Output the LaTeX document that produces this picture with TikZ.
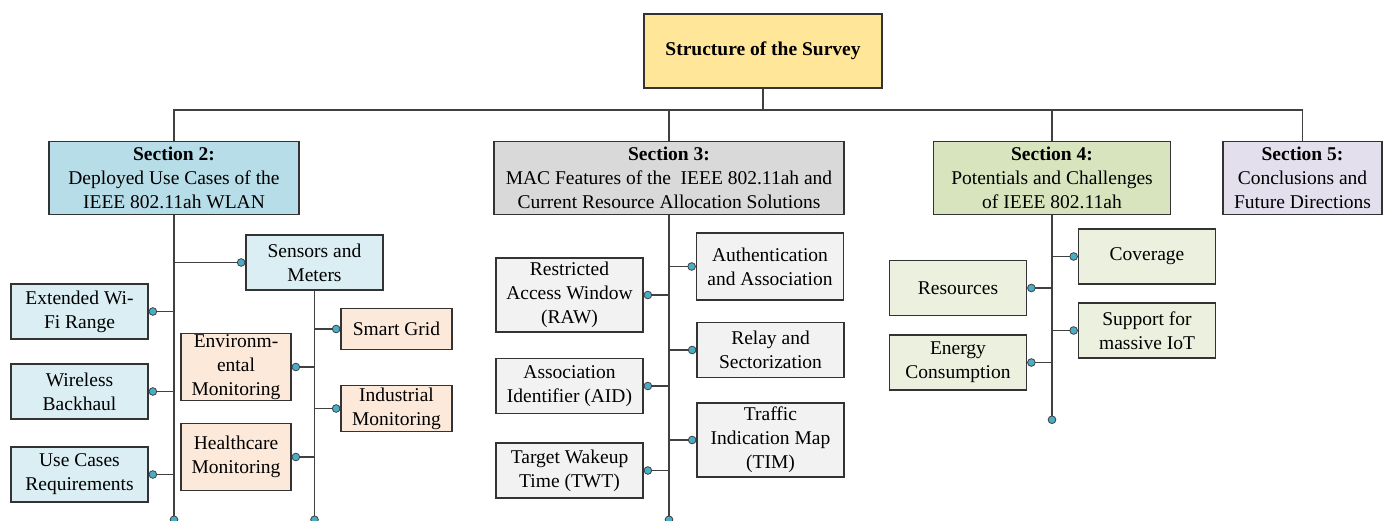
\documentclass[tikz,border=0pt]{standalone}
\usepackage{fontspec}
\setmainfont{Liberation Serif}
\usetikzlibrary{arrows.meta}
\definecolor{linecol}{HTML}{333333}
\definecolor{wirecol}{HTML}{404040}
\definecolor{dotfill}{HTML}{4BACC6}
\definecolor{topfill}{HTML}{FFE699}
\definecolor{blueA}{HTML}{B7DDE8}
\definecolor{blueB}{HTML}{DAEEF3}
\definecolor{peach}{HTML}{FDE9D9}
\definecolor{grayA}{HTML}{D9D9D9}
\definecolor{grayB}{HTML}{F2F2F2}
\definecolor{greenA}{HTML}{D7E4BD}
\definecolor{greenB}{HTML}{EBF1DE}
\definecolor{lilac}{HTML}{E4DFEC}
\begin{document}
\begin{tikzpicture}[x=1pt,y=-1pt,
    box/.style={draw=linecol,line width=1.2pt,inner sep=0pt,align=center,
      font=\fontsize{19.5}{24}\selectfont},
    secbox/.style={box,minimum height=73},
    itembox/.style={box,minimum width=137,minimum height=55},
    link/.style={draw=wirecol,line width=1.2pt},
    dotend/.style={-{Circle[length=8.5pt,fill=dotfill,line width=0.8pt]}}]
    \useasboundingbox (0,0) rectangle (1389,521);
    \node[box,fill=topfill,minimum width=238,minimum height=74] (top) at (763,51) {\textbf{Structure of the Survey}};
    \node[secbox,fill=blueA,minimum width=250] (sec2) at (174,178) {\textbf{Section 2:}\\Deployed Use Cases of the\\IEEE 802.11ah WLAN};
    \node[secbox,fill=grayA,minimum width=350] (sec3) at (669,178) {\textbf{Section 3:}\\MAC Features of the\ \ IEEE 802.11ah and\\Current Resource Allocation Solutions};
    \node[secbox,fill=greenA,minimum width=237] (sec4) at (1052,178) {\textbf{Section 4:}\\Potentials and Challenges\\of IEEE 802.11ah};
    \node[secbox,fill=lilac,minimum width=159] (sec5) at (1302.5,178) {\textbf{Section 5:}\\Conclusions and\\Future Directions};
    \coordinate (bus) at (763,110);
    \draw[link] (top.south) -- (bus);
    \draw[link] (sec2.north) |- (bus) -| (sec5.north);
    \draw[link] (sec3.north) -- (sec3.north |- bus);
    \draw[link] (sec4.north) -- (sec4.north |- bus);
    % section 2
    \node[itembox,fill=blueB] (sens) at (314.5,262.5) {Sensors and\\Meters};
    \node[itembox,fill=blueB] (ext) at (79.5,311.5) {Extended Wi-\\Fi Range};
    \node[itembox,fill=blueB] (back) at (79.5,391.5) {Wireless\\Backhaul};
    \node[itembox,fill=blueB] (req) at (79.5,474.5) {Use Cases\\Requirements};
    \node[box,fill=peach,minimum width=111,minimum height=41] (grid) at (396.5,329) {Smart Grid};
    \node[box,fill=peach,minimum width=110,minimum height=67] (env) at (236,367) {Environm-\\ental\\Monitoring};
    \node[box,fill=peach,minimum width=111,minimum height=46] (ind) at (396.5,408.5) {Industrial\\Monitoring};
    \node[box,fill=peach,minimum width=110,minimum height=67] (health) at (236,457) {Healthcare\\Monitoring};
    \coordinate (end2) at (sec2.south |- 0,524);
    \coordinate (end2b) at (sens.south |- 0,524);
    \draw[link,dotend] (sec2.south) -- (end2);
    \draw[link,dotend] (sens.south) -- (end2b);
    \foreach \n in {ext,back,req}
      \draw[link,dotend] (sec2.south |- \n.east) -- (\n.east);
    \draw[link,dotend] (sec2.south |- sens.west) -- (sens.west);
    \foreach \n in {env,health}
      \draw[link,dotend] (sens.south |- \n.east) -- (\n.east);
    \foreach \n in {grid,ind}
      \draw[link,dotend] (sens.south |- \n.west) -- (\n.west);
    % section 3
    \node[box,fill=grayB,minimum width=147,minimum height=74] (raw) at (569.5,295) {Restricted\\Access Window\\(RAW)};
    \node[box,fill=grayB,minimum width=147,minimum height=67] (auth) at (770,266.5) {Authentication\\and Association};
    \node[box,fill=grayB,minimum width=147,minimum height=55] (relay) at (770.5,350) {Relay and\\Sectorization};
    \node[box,fill=grayB,minimum width=147,minimum height=55] (aid) at (569.5,386) {Association\\Identifier (AID)};
    \node[box,fill=grayB,minimum width=147,minimum height=74] (tim) at (770.5,440) {Traffic\\Indication Map\\(TIM)};
    \node[box,fill=grayB,minimum width=147,minimum height=55] (twt) at (569.5,470.5) {Target Wakeup\\Time (TWT)};
    \coordinate (end3) at (sec3.south |- 0,524);
    \draw[link,dotend] (sec3.south) -- (end3);
    \foreach \n in {raw,aid,twt}
      \draw[link,dotend] (sec3.south |- \n.east) -- (\n.east);
    \foreach \n in {auth,relay,tim}
      \draw[link,dotend] (sec3.south |- \n.west) -- (\n.west);
    % section 4
    \node[itembox,fill=greenB] (cov) at (1147,256.5) {Coverage};
    \node[itembox,fill=greenB] (res) at (958,288) {Resources};
    \node[itembox,fill=greenB] (iot) at (1147,330.5) {Support for\\massive IoT};
    \node[itembox,fill=greenB] (energy) at (958,362.5) {Energy\\Consumption};
    \coordinate (end4) at (sec4.south |- 0,424);
    \draw[link,dotend] (sec4.south) -- (end4);
    \foreach \n in {res,energy}
      \draw[link,dotend] (sec4.south |- \n.east) -- (\n.east);
    \foreach \n in {cov,iot}
      \draw[link,dotend] (sec4.south |- \n.west) -- (\n.west);
\end{tikzpicture}
\end{document}
